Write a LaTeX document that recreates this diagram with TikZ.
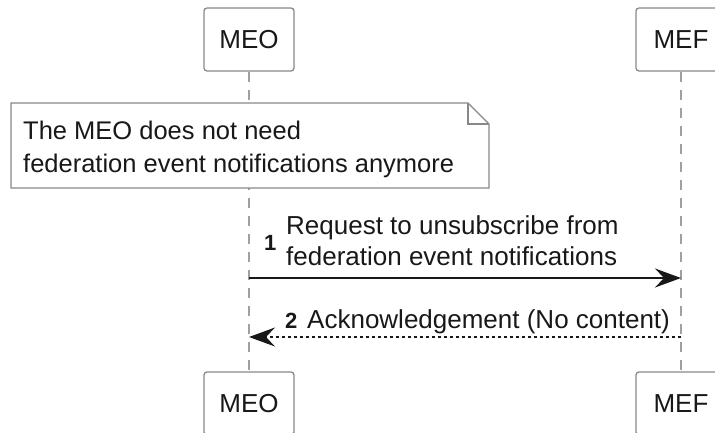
\documentclass[tikz,border=0pt]{standalone}
\usepackage{fontspec}
\setmainfont{Liberation Sans}
\usetikzlibrary{arrows.meta}
\definecolor{boxgray}{HTML}{888888}
\definecolor{linegray}{HTML}{A0A0A0}
\definecolor{ink}{HTML}{181818}
\begin{document}
\begin{tikzpicture}[x=1pt,y=-1pt,
  actor/.style={draw=boxgray,line width=1.3pt,fill=white,rounded corners=3pt,minimum width=90pt,minimum height=63pt,inner sep=0pt,font=\fontsize{26}{30}\selectfont,text=ink},
  lifeline/.style={draw=linegray,line width=1.2pt,dash pattern=on 10pt off 8pt},
  msgtext/.style={font=\fontsize{26}{31}\selectfont,text=ink,align=left,inner sep=0pt},
  num/.style={font=\bfseries\fontsize{22}{26}\selectfont,text=ink,inner sep=0pt},
  head/.style={-{Stealth[length=26pt,width=19pt,inset=9pt]}},
  msg/.style={draw=ink,line width=1.5pt,head},
  reply/.style={draw=ink,line width=1.2pt,dash pattern=on 3pt off 3pt,head}
]
\useasboundingbox (0,0) rectangle (715,432);
% participants
\node[actor] (meoT) at (249,39.5) {MEO};
\node[actor] (mefT) at (681,39.5) {MEF};
\node[actor] (meoB) at (249,403.5) {MEO};
\node[actor] (mefB) at (681,403.5) {MEF};
% lifelines
\draw[lifeline] (meoT.south) -- (meoB.north);
\draw[lifeline] (mefT.south) -- (mefB.north);
% note
\coordinate (n1) at (11,103);
\coordinate (n2) at (468,103);
\coordinate (n3) at (489,124);
\coordinate (n4) at (489,188);
\coordinate (n5) at (11,188);
\coordinate (nf) at (468,124);
\draw[draw=boxgray,line width=1.3pt,fill=white,line join=miter] (n1) -- (n2) -- (n3) -- (n4) -- (n5) -- cycle;
\draw[draw=boxgray,line width=1.3pt] (n2) -- (nf) -- (n3);
\node[msgtext,anchor=north west,font=\fontsize{25.5}{33}\selectfont] (note) at (23,121) {The MEO does not need\\federation event notifications anymore};
% message 1
\coordinate (m1s) at (249,278);
\coordinate (m1e) at (681,278);
\draw[msg] (m1s) -- (m1e);
\node[num,anchor=base west] (num1) at (264,250) {1};
\node[msgtext,anchor=north west] (t1) at (286,215) {Request to unsubscribe from\\federation event notifications};
% message 2
\coordinate (m2s) at (681,337);
\coordinate (m2e) at (249,337);
\draw[reply] (m2s) -- (m2e);
\node[num,anchor=base west] (num2) at (285,328) {2};
\node[msgtext,anchor=base west] (t2) at (307,328) {Acknowledgement (No content)};
\end{tikzpicture}
\end{document}
